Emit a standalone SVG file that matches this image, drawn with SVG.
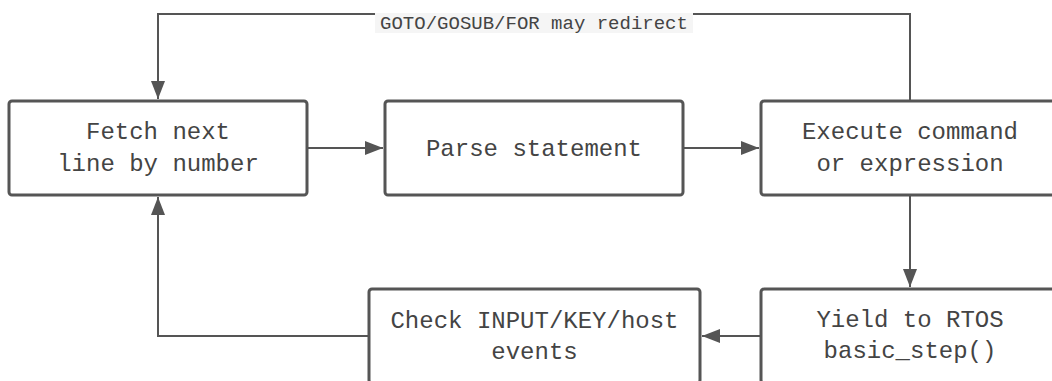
<svg xmlns="http://www.w3.org/2000/svg" width="1052" height="381" viewBox="0 0 1052 381">
<style>
.box{fill:#fff;stroke:#555;stroke-width:3}
.t{font-family:"Liberation Mono","Courier New",monospace;font-size:24px;fill:#444;text-anchor:middle}
.edge{fill:none;stroke:#555;stroke-width:2}
.lbl{font-family:"Liberation Mono","Courier New",monospace;font-size:19px;fill:#444;text-anchor:middle}
</style>
<defs>
<marker id="ah" viewBox="0 0 18 14" refX="18" refY="7" markerWidth="18" markerHeight="14" markerUnits="userSpaceOnUse" orient="auto">
<path d="M0,0 L18,7 L0,14 Z" fill="#555"/>
</marker>
</defs>
<rect width="1052" height="381" fill="#fff"/>
<g id="edges">
<path class="edge" d="M910,101 V14 H158 V99" marker-end="url(#ah)"/>
<path class="edge" d="M307,148 H383" marker-end="url(#ah)"/>
<path class="edge" d="M683,148 H759" marker-end="url(#ah)"/>
<path class="edge" d="M910,195 V287" marker-end="url(#ah)"/>
<path class="edge" d="M761,336 H702" marker-end="url(#ah)"/>
<path class="edge" d="M369,336 H158 V197" marker-end="url(#ah)"/>
<rect x="375" y="13" width="318" height="20" fill="#f5f5f5"/>
<text class="lbl" x="534" y="29">GOTO/GOSUB/FOR may redirect</text>
</g>
<g id="fetch">
<rect class="box" x="9" y="101" width="298" height="94" rx="3"/>
<text class="t" x="158" y="139">Fetch next</text>
<text class="t" x="158" y="171">line by number</text>
</g>
<g id="parse">
<rect class="box" x="385" y="101" width="298" height="94" rx="3"/>
<text class="t" x="534" y="156">Parse statement</text>
</g>
<g id="execute">
<rect class="box" x="761" y="101" width="298" height="94" rx="3"/>
<text class="t" x="910" y="139">Execute command</text>
<text class="t" x="910" y="171">or expression</text>
</g>
<g id="yield">
<rect class="box" x="761" y="289" width="298" height="94" rx="3"/>
<text class="t" x="910" y="327">Yield to RTOS</text>
<text class="t" x="910" y="358">basic_step()</text>
</g>
<g id="check">
<rect class="box" x="369" y="289" width="331" height="94" rx="3"/>
<text class="t" x="534.5" y="328">Check INPUT/KEY/host</text>
<text class="t" x="534.5" y="359">events</text>
</g>
</svg>
